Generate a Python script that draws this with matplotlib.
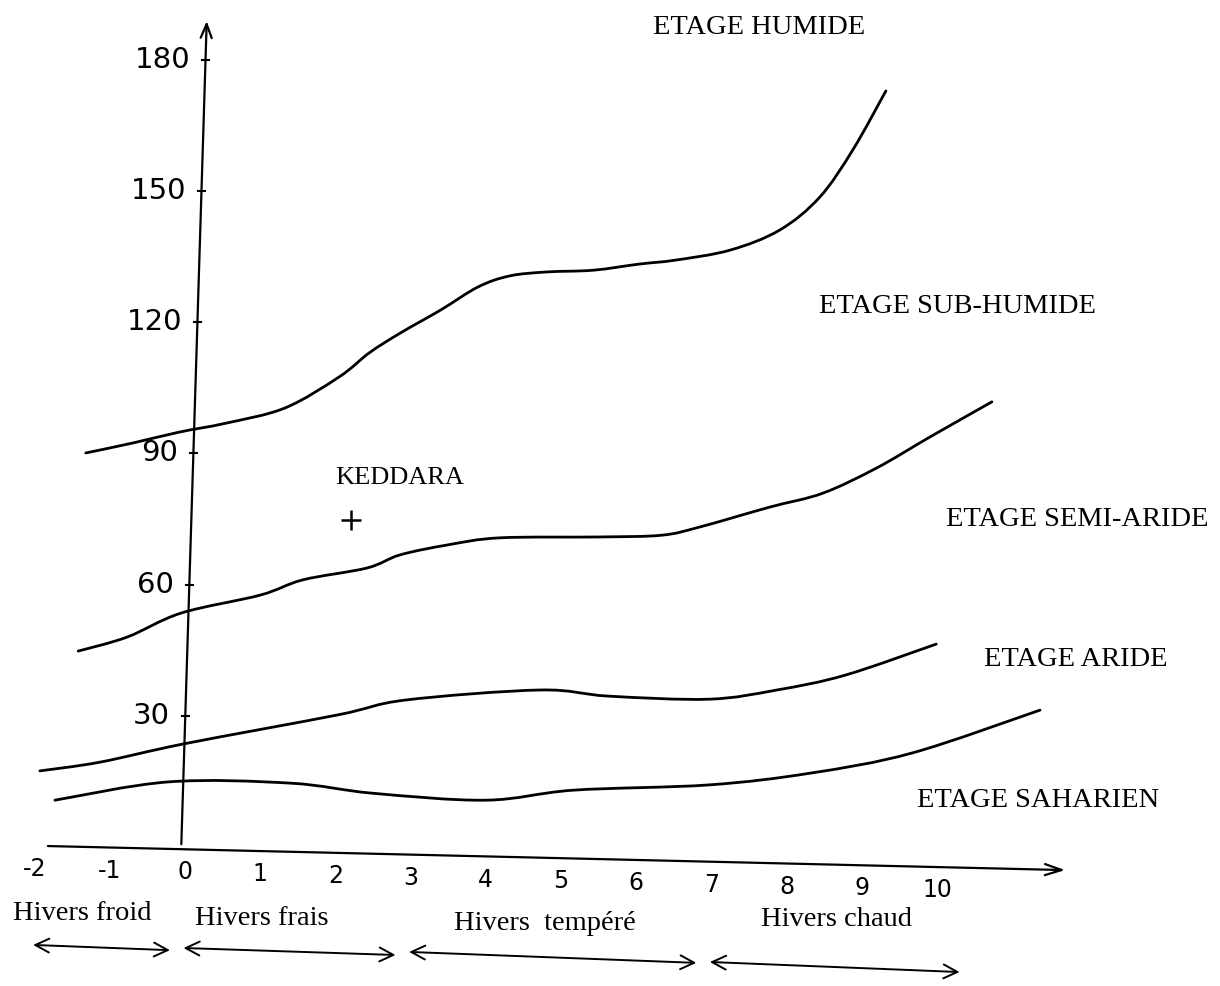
import matplotlib.pyplot as plt
from matplotlib.path import Path
from matplotlib.patches import PathPatch

# graduations des axes
m_ticks = [-2, -1, 0, 1, 2, 3, 4, 5, 6, 7, 8, 9, 10]
q_ticks = [30, 60, 90, 120, 150, 180]

# limite humide / sub-humide (m en °C, Q2)
lim1_m = [-1.32, -0.69, -0.07, 0.54, 1.33, 2.05, 2.45, 2.86, 3.40, 3.90, 4.32, 4.81,
          5.43, 6.04, 6.52, 7.25, 7.91, 8.44, 8.88, 9.32]
lim1_q = [90.1, 92.4, 94.9, 96.9, 100.4, 107.5, 113.0, 117.5, 122.8, 128.1, 130.6, 131.5,
          131.9, 133.3, 134.2, 136.5, 141.1, 148.6, 159.4, 172.9]

# limite sub-humide / semi-aride
lim2_m = [-1.42, -0.77, -0.05, 1.00, 1.57, 2.42, 2.86, 3.50, 4.19, 5.52, 6.34, 6.85,
          7.77, 8.48, 9.20, 9.91, 10.73]
lim2_q = [44.8, 48.0, 53.5, 57.6, 61.1, 63.8, 66.8, 69.1, 70.7, 70.9, 71.3, 73.2,
          77.7, 80.9, 86.7, 93.8, 101.8]

# limite semi-aride / aride
lim3_m = [-1.93, -1.13, -0.01, 2.03, 2.93, 4.72, 5.63, 6.97, 7.87, 8.78, 9.99]
lim3_q = [17.4, 19.4, 23.6, 30.2, 33.6, 35.9, 34.5, 33.8, 35.9, 39.3, 46.4]

# limite aride / saharien
lim4_m = [-1.73, -0.21, 1.40, 2.49, 4.00, 5.17, 6.97, 8.32, 9.67, 11.37]
lim4_q = [10.7, 14.9, 14.6, 12.3, 10.7, 13.0, 14.2, 16.9, 21.5, 31.3]

# station
station = "KEDDARA"
station_m = 2.21
station_q = 74.8

etages = ["ETAGE HUMIDE", "ETAGE SUB-HUMIDE", "ETAGE SEMI-ARIDE", "ETAGE ARIDE", "ETAGE SAHARIEN"]
hivers = ["Hivers froid", "Hivers frais", "Hivers  tempéré", "Hivers chaud"]
hivers_bornes = [(-2, 0), (0, 3), (3, 7), (7, 10.5)]

SERIF = "Liberation Serif"
HAND = "DejaVu Sans"

fig = plt.figure(figsize=(12.2, 9.86), dpi=100)
ax = fig.add_axes([0, 0, 1, 1])
ax.set_xlim(-2.460, 13.763)
ax.set_ylim(-31.79, 193.69)
ax.axis("off")


def courbe_lisse(xs, ys):
    # trait passant par les points lus, tracé en segments de Bézier (Catmull-Rom)
    pts = list(zip(xs, ys))
    verts = [pts[0]]
    codes = [Path.MOVETO]
    for i in range(len(pts) - 1):
        p0 = pts[i - 1] if i > 0 else pts[i]
        p1, p2 = pts[i], pts[i + 1]
        p3 = pts[i + 2] if i + 2 < len(pts) else pts[i + 1]
        c1 = (p1[0] + (p2[0] - p0[0]) / 6, p1[1] + (p2[1] - p0[1]) / 6)
        c2 = (p2[0] - (p3[0] - p1[0]) / 6, p2[1] - (p3[1] - p1[1]) / 6)
        verts += [c1, c2, p2]
        codes += [Path.CURVE4] * 3
    return PathPatch(Path(verts, codes), facecolor="none", edgecolor="black",
                     lw=2.0, capstyle="round", joinstyle="round")


# axes dessinés à la main (légèrement penchés)
y_bas, y_haut = (-0.05, 0.0), (0.29, 189.5)
x_gauche, x_droite = (-1.86, 0.23), (11.74, -5.3)
ax.annotate("", xy=y_haut, xytext=y_bas,
            arrowprops=dict(arrowstyle="->,head_length=1.0,head_width=0.4", lw=1.6, color="black"))
ax.annotate("", xy=x_droite, xytext=x_gauche,
            arrowprops=dict(arrowstyle="->,head_length=1.2,head_width=0.4", lw=1.6, color="black"))


def axe_y_x(q):
    return y_bas[0] + (y_haut[0] - y_bas[0]) * q / y_haut[1]


def axe_x_y(m):
    return x_gauche[1] + (x_droite[1] - x_gauche[1]) * (m - x_gauche[0]) / (x_droite[0] - x_gauche[0])


for q in q_ticks:
    xa = axe_y_x(q)
    ax.plot([xa - 0.05, xa + 0.05], [q, q], color="black", lw=1.5)
    ax.annotate(str(q), xy=(xa, q), xytext=(-11, 0), textcoords="offset points",
                ha="right", va="center", fontsize=21, family=HAND)

for m in m_ticks:
    ax.text(m, axe_x_y(m) - 5.3, str(m), ha="center", va="center", fontsize=17, family=HAND)

# courbes limites
for mm, qq in [(lim1_m, lim1_q), (lim2_m, lim2_q), (lim3_m, lim3_q), (lim4_m, lim4_q)]:
    ax.add_patch(courbe_lisse(mm, qq))

# station
ax.plot(station_m, station_q, marker="+", ms=14, mew=1.8, color="black")
ax.text(2.86, 84.4, station, ha="center", va="center", fontsize=19, family=SERIF)

# étages bioclimatiques
etage_pos = [(7.63, 187.3), (10.27, 123.5), (11.87, 74.8), (11.84, 42.8), (11.34, 10.7)]
for nom, (px, py) in zip(etages, etage_pos):
    ax.text(px, py, nom, ha="center", va="center", fontsize=20.5, family=SERIF)

# variantes d'hiver
hiver_txt = [(-1.37, -15.2), (1.02, -16.4), (4.79, -17.4), (8.66, -16.6)]
hiver_fl = [(-22.4, -23.6), (-23.1, -24.7), (-24.0, -26.5), (-26.3, -28.6)]
for nom, (lo, hi), (tx, ty), (ya, yb) in zip(hivers, hivers_bornes, hiver_txt, hiver_fl):
    ax.text(tx, ty, nom, ha="center", va="center", fontsize=20.5, family=SERIF)
    ax.annotate("", xy=(hi - 0.2, yb), xytext=(lo - 0.02, ya),
                arrowprops=dict(arrowstyle="<->,head_length=1.0,head_width=0.5",
                                lw=1.4, color="black", shrinkA=0, shrinkB=0))

fig.savefig("out.png", dpi=100, facecolor="white")
